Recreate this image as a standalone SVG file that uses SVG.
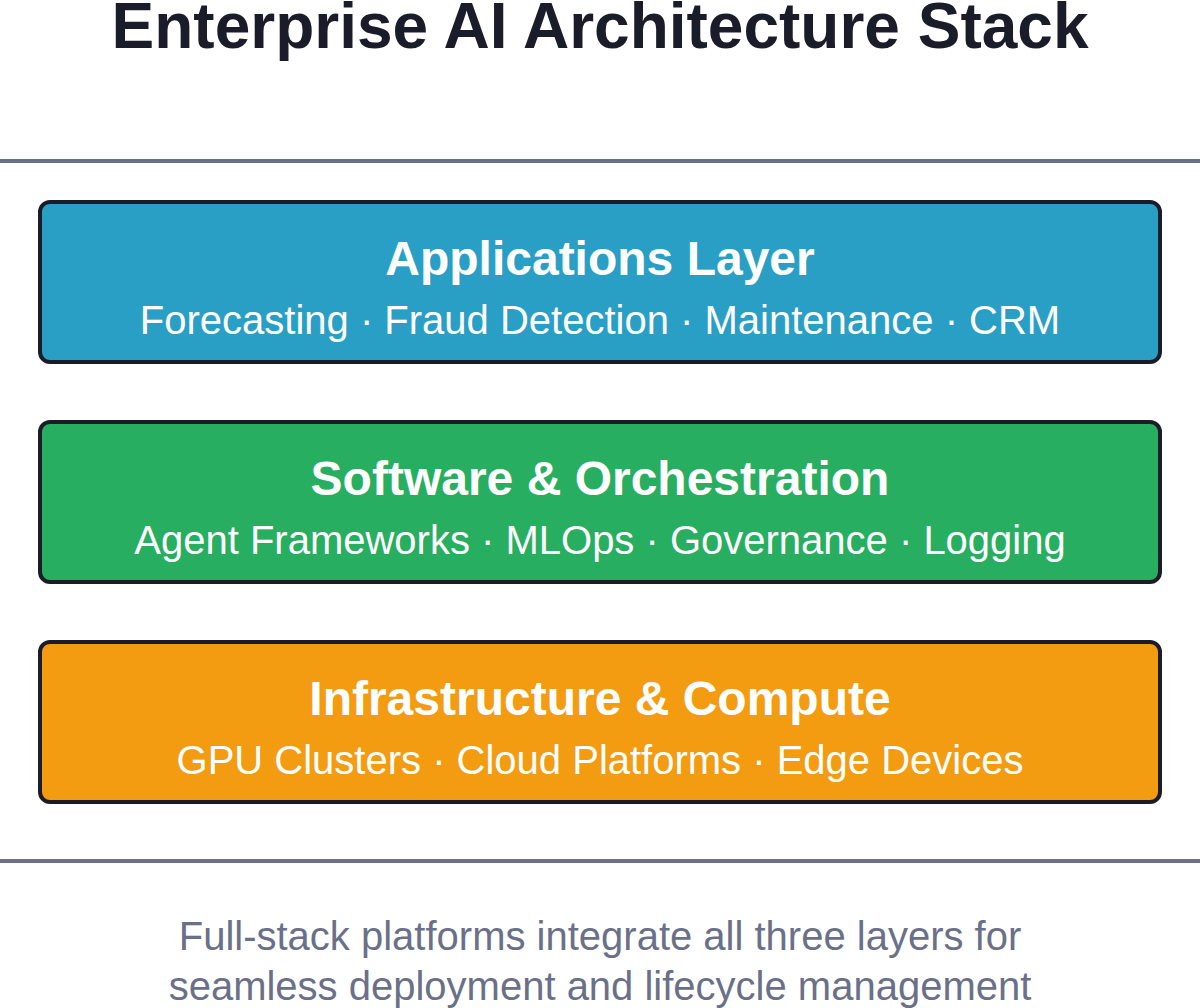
<svg xmlns="http://www.w3.org/2000/svg" width="1200" height="1008" viewBox="0 0 1200 1008">
<style>
.title{font-family:"Liberation Sans",Arial,sans-serif;font-weight:bold;font-size:64px;fill:#1a1c2a;text-anchor:middle}
.layer{stroke:#1a1c2a;stroke-width:4}
.lt{font-family:"Liberation Sans",Arial,sans-serif;font-weight:bold;font-size:48px;fill:#ffffff;text-anchor:middle}
.ls{font-family:"Liberation Sans",Arial,sans-serif;font-size:40px;fill:#ffffff;text-anchor:middle}
.rule{stroke:#6b7089;stroke-width:4}
.foot{font-family:"Liberation Sans",Arial,sans-serif;font-size:40px;fill:#6b7089;text-anchor:middle}
</style>
<rect width="1200" height="1008" fill="#ffffff"/>
<text class="title" x="600" y="48">Enterprise AI Architecture Stack</text>
<line class="rule" x1="0" y1="161" x2="1200" y2="161"/>
<g id="applications">
<rect class="layer" x="40" y="202" width="1120" height="160" rx="10" fill="#2a9fc5"/>
<text class="lt" x="600" y="275">Applications Layer</text>
<text class="ls" x="600" y="334">Forecasting · Fraud Detection · Maintenance · CRM</text>
</g>
<g id="software">
<rect class="layer" x="40" y="422" width="1120" height="160" rx="10" fill="#27ae60"/>
<text class="lt" x="600" y="495">Software &amp; Orchestration</text>
<text class="ls" x="600" y="554">Agent Frameworks · MLOps · Governance · Logging</text>
</g>
<g id="infrastructure">
<rect class="layer" x="40" y="642" width="1120" height="160" rx="10" fill="#f39c12"/>
<text class="lt" x="600" y="715">Infrastructure &amp; Compute</text>
<text class="ls" x="600" y="774">GPU Clusters · Cloud Platforms · Edge Devices</text>
</g>
<g id="connectors"/>
<line class="rule" x1="0" y1="861" x2="1200" y2="861"/>
<text class="foot" x="600" y="950">Full-stack platforms integrate all three layers for</text>
<text class="foot" x="600" y="1000">seamless deployment and lifecycle management</text>
</svg>
